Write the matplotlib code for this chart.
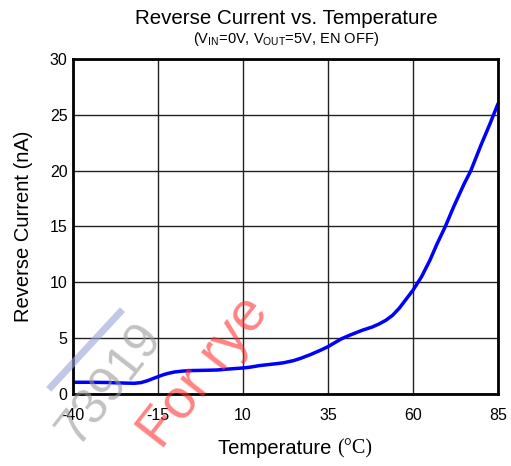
import matplotlib
matplotlib.use('Agg')

import matplotlib.pyplot as plt
import numpy as np

temp_c = [-40, -35, -30, -25, -22, -20, -18, -16.5, -15, -13.5, -12, -10, -7.5, -5,
          0, 2.5, 5, 10, 12, 15, 20, 22, 25, 27, 30, 33, 35, 37, 39, 41.5, 45, 48,
          50, 52, 54, 56, 58, 60, 62.5, 65, 67, 69.5, 72, 75, 77, 80, 82.5, 85]
rev_na = [1.05, 1.05, 1.03, 0.98, 0.96, 1.02, 1.2, 1.38, 1.55, 1.72, 1.85, 1.98,
          2.06, 2.1, 2.13, 2.15, 2.22, 2.33, 2.4, 2.55, 2.72, 2.8, 3.0, 3.2, 3.55,
          3.95, 4.24, 4.6, 4.95, 5.28, 5.7, 6.0, 6.27, 6.6, 7.05, 7.7, 8.5, 9.3,
          10.5, 12.0, 13.4, 15.0, 16.8, 18.8, 20.0, 22.3, 24.1, 26.0]

x_ticks = [-40, -15, 10, 35, 60, 85]
y_ticks = [0, 5, 10, 15, 20, 25, 30]

plt.rcParams['font.family'] = ['Liberation Sans', 'DejaVu Sans']
plt.rcParams['mathtext.fontset'] = 'custom'
plt.rcParams['mathtext.rm'] = 'Liberation Sans'
plt.rcParams['axes.unicode_minus'] = False


def main():
    fig = plt.figure(figsize=(5.11, 4.66), dpi=100)
    ax = fig.add_axes([0.1429, 0.1545, 0.8317, 0.7189])

    xs = np.array(temp_c, dtype=float)
    ys = np.array(rev_na, dtype=float)
    ax.plot(xs, ys, color='#0000ff', lw=2.5, solid_capstyle='round',
            solid_joinstyle='round', zorder=3)

    ax.set_xlim(-40, 85)
    ax.set_ylim(0, 30)
    ax.set_xticks(x_ticks)
    ax.set_yticks(y_ticks)
    ax.tick_params(length=0, labelsize=11.5)
    ax.tick_params(axis='x', pad=10)
    ax.tick_params(axis='y', pad=4)
    ax.grid(True, color='#222222', lw=1.0)
    for s in ax.spines.values():
        s.set_linewidth(2)
        s.set_color('black')
        s.set_zorder(4)

    ax.set_ylabel('Reverse Current (nA)', fontsize=14.5, labelpad=12)

    xl = fig.text(0.426, 0.025, 'Temperature ', fontsize=14.5, ha='left', va='baseline')
    ax.annotate('(°C)', xy=(1, 0), xycoords=xl, va='bottom', ha='left',
                fontsize=14.5, family=['Liberation Serif', 'DejaVu Serif'])

    fig.text(0.56, 0.96, 'Reverse Current vs. Temperature', fontsize=14.8,
             ha='center', va='center')
    fig.text(0.56, 0.917, r'(V$_{\rm IN}$=0V, V$_{\rm OUT}$=5V, EN OFF)',
             fontsize=10.5, ha='center', va='center')

    # faint stamps across the lower left
    fig.text(0.40, 0.20, 'For rye', fontsize=40, color='#ff3030', alpha=0.6,
             rotation=52, ha='center', va='center', zorder=10)
    fig.text(0.215, 0.175, '73919', fontsize=36, color='#999999', alpha=0.6,
             rotation=52, ha='center', va='center', zorder=9)
    fig.add_artist(plt.Line2D([0.10, 0.235], [0.17, 0.33], color='#9aa3d6',
                              alpha=0.6, lw=5, transform=fig.transFigure))

    fig.savefig('out.png', dpi=100)
    plt.close(fig)


if __name__ == '__main__':
    main()
